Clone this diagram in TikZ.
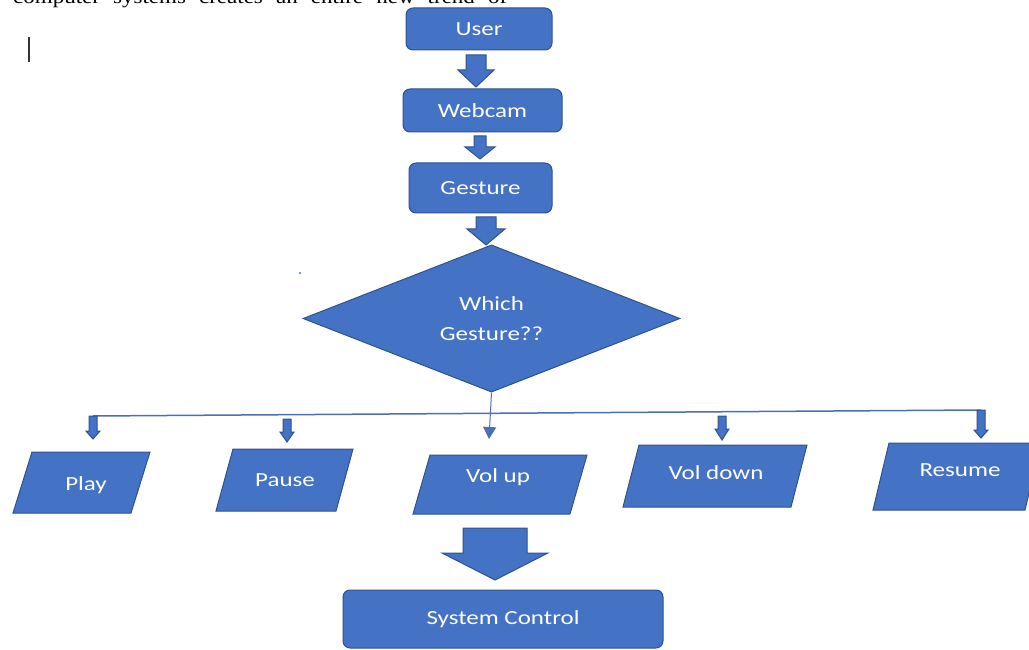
\documentclass[tikz,border=0pt]{standalone}
\usepackage{fontspec}
\usetikzlibrary{shapes.geometric,arrows.meta}
\newfontfamily\boxfont[FakeStretch=1.25]{Carlito}
\newfontfamily\docfont[FakeStretch=1.15]{Liberation Serif}
\definecolor{boxfill}{HTML}{4472C4}
\definecolor{boxedge}{HTML}{2F528F}
\definecolor{linecol}{HTML}{4A6FB5}
\newcommand\blockarr[7]{% name, x, ytop, yhead, ytip, halfshaft, halfhead
  \filldraw[shapebox] (#2-#6,#3) -- (#2+#6,#3) -- (#2+#6,#4) -- (#2+#7,#4) -- (#2,#5) coordinate (#1) -- (#2-#7,#4) -- (#2-#6,#4) -- cycle;}
\newcommand\para[6]{% name, x1 top-left, x2 top-right, ytop, ybottom, shift
  \filldraw[shapebox] (#2,#4) -- (#3,#4) -- (#3-#6,#5) -- (#2-#6,#5) -- cycle;}
\begin{document}
\begin{tikzpicture}[x=1pt,y=-1pt,
  shapebox/.style={fill=boxfill, draw=boxedge, line width=1pt},
  rbox/.style={shapebox, rounded corners=7pt, inner sep=0pt},
  lbl/.style={text=white, font=\boxfont\fontsize{20}{30}\selectfont, inner sep=0pt},
  conn/.style={draw=linecol, line width=1.5pt}]
\useasboundingbox (0,0) rectangle (1029,650);
% cut-off line of document text
\begin{scope}
\clip (0,0) rectangle (1029,650);
\node[anchor=base west, inner sep=0pt, font=\docfont\fontsize{20}{24}\selectfont] (toptext) at (13,4)
  {\makebox[494pt][s]{computer systems creates an entire new trend of}};
\end{scope}
% text cursor
\draw[line width=1.5pt, black!80] (29,37) -- (29,62);
% stray dot
\fill[boxfill] (300,273) circle (1.2pt);

% main chain
\node[rbox, lbl, minimum width=146pt, minimum height=42pt] (user) at (479,29) {User};
\node[rbox, lbl, minimum width=159pt, minimum height=43pt] (webcam) at (482.5,110.5) {Webcam};
\node[rbox, lbl, minimum width=143pt, minimum height=50pt] (gesture) at (480.5,188) {Gesture};
\node[diamond, shapebox, lbl, align=center, minimum width=377pt, minimum height=147pt] (which) at (491.5,318.5) {Which\\Gesture??};
\node[rbox, lbl, minimum width=320pt, minimum height=58pt] (sys) at (503,619) {System Control};

\blockarr{a1}{476}{55}{70}{87}{10}{18}
\blockarr{a2}{480}{136}{147}{159}{6}{15}
\blockarr{a3}{486}{217}{229}{245}{10}{19}
\blockarr{a4}{495}{528}{553}{580}{32}{53}

% branch line
\coordinate (bl) at (93,416);
\coordinate (br) at (981,410);
\draw[conn] (bl) -- (br);
\draw[conn, line width=1pt, -{Triangle[width=13pt,length=12pt]}] (which.south) -- (489,439);

\blockarr{s1}{93}{416}{431}{439}{4}{7}
\blockarr{s2}{287}{419}{432}{442}{4}{7}
\blockarr{s4}{722}{416}{429}{440}{4}{7}
\blockarr{s5}{981}{410}{430}{438}{4}{7}

% parallelograms
\para{p1}{32}{150}{452}{513}{19}
\para{p2}{233}{353}{449}{511}{17}
\para{p3}{430}{587}{455}{514}{17}
\para{p4}{639}{807}{445}{507}{16}
\para{p5}{889}{1041}{443}{510}{16}
\node[lbl] (play) at (86,485) {Play};
\node[lbl] (pause) at (285,480) {Pause};
\node[lbl] (volup) at (498,477) {Vol up};
\node[lbl] (voldown) at (716,473) {Vol down};
\node[lbl] (resume) at (960,470) {Resume};
\end{tikzpicture}
\end{document}
